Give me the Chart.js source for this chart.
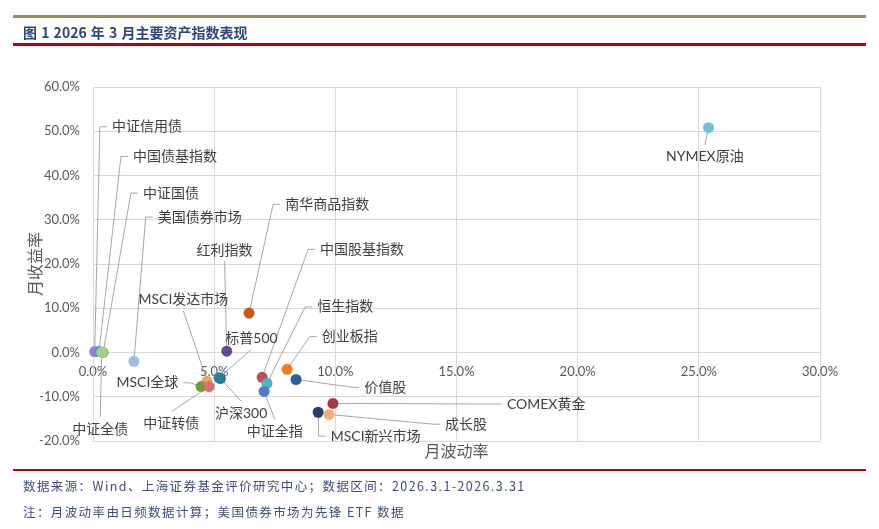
<!DOCTYPE html>
<html>
<head>
<meta charset="utf-8">
<script src="https://cdn.jsdelivr.net/npm/chart.js@4.4.1/dist/chart.umd.min.js"></script>
<style>
  html, body { margin: 0; padding: 0; background: #fff; }
  #page { position: relative; width: 879px; height: 529px; overflow: hidden; font-family: "Noto Sans CJK SC", sans-serif; }
  #myChart { position: absolute; left: 0; top: 0; }
  .rule { position: absolute; left: 13px; width: 853px; }
  #title { position: absolute; left: 23px; top: 22px; font-size: 14px; font-weight: bold; color: #2b4878; white-space: nowrap; word-spacing: 1px; }
  .note { position: absolute; left: 23px; font-size: 12.5px; color: #3e4f7c; letter-spacing: 1.4px; white-space: nowrap; }
</style>
</head>
<body>
<div id="page">
  <canvas id="myChart" width="879" height="529"></canvas>
  <div class="rule" style="top:15px;height:2.5px;background:#978e5c;"></div>
  <div id="title">图 1 2026 年 3 月主要资产指数表现</div>
  <div class="rule" style="top:43px;height:2.5px;background:#c00000;"></div>
  <div class="rule" style="top:469px;height:2px;background:#c00000;"></div>
  <div class="note" style="top:476px;">数据来源：Wind、上海证券基金评价研究中心；数据区间：2026.3.1-2026.3.31</div>
  <div class="note" style="top:502px;">注：月波动率由日频数据计算；美国债券市场为先锋 ETF 数据</div>
</div>
<script>
const ctx = document.getElementById("myChart");

// Asset names, monthly volatility (%) and monthly return (%)
const names = [
    "中证信用债", "中国债基指数", "中证国债", "中证全债", "美国债券市场",
    "红利指数", "南华商品指数", "标普500", "沪深300", "MSCI发达市场",
    "MSCI全球", "中证转债", "中国股基指数", "恒生指数", "中证全指",
    "创业板指", "价值股", "COMEX黄金", "MSCI新兴市场", "成长股", "NYMEX原油"
];
const volatility = [
    0.07, 0.25, 0.42, 0.36, 1.69,
    5.52, 6.44, 5.20, 5.26, 4.71,
    4.46, 4.79, 6.98, 7.18, 7.06,
    8.01, 8.38, 9.90, 9.29, 9.74, 25.40
];
const monthlyReturn = [
    0.2, 0.2, 0.0, 0.05, -2.0,
    0.3, 8.9, -5.7, -5.9, -6.5,
    -7.7, -7.7, -5.6, -7.0, -8.8,
    -3.8, -6.1, -11.5, -13.5, -14.0, 50.8
];
const pointColors = [
    "#9a84c8", "#5b8fcf", "#9bbb59", "#a6cf88", "#9dbfe3",
    "#644a8c", "#c55a11", "#2a8aa0", "#237f93", "#f7a15a",
    "#77983e", "#d9706f", "#c0504d", "#4cb3cc", "#4a7fc0",
    "#f47c1c", "#2f5e94", "#a5383a", "#243f6e", "#f9ae72", "#72bfd6"
];

const xTicks = [0, 5, 10, 15, 20, 25, 30];
const yTicks = [-20, -10, 0, 10, 20, 30, 40, 50, 60];

// Label anchors in axis units: [x, y, side]
// R = text right of the point, L = text left, A = text above, B = text below
const labelLayout = [
    [0.78, 51.0, "R"], [1.65, 44.3, "R"], [2.06, 36.0, "R"], [0.30, -17.3, "B"], [2.67, 30.6, "R"],
    [5.43, 23.1, "A"], [7.93, 33.5, "R"], [6.54, 3.2, "A"], [6.11, -13.7, "B"], [3.73, 11.9, "A"],
    [3.52, -6.85, "L"], [3.23, -16.1, "B"], [9.37, 23.3, "R"], [9.25, 10.3, "R"], [7.50, -17.8, "B"],
    [9.44, 3.6, "R"], [11.19, -7.85, "R"], [17.08, -11.65, "R"], [9.81, -18.9, "R"], [14.53, -16.2, "R"], [25.25, 44.2, "B"]
];

const labelFont = '14px Lato, "Noto Sans CJK SC"';

const leaderPlugin = {
    id: "leaders",
    beforeDatasetsDraw(chart) {
        const { ctx, scales: { x, y } } = chart;
        ctx.save();
        ctx.strokeStyle = "#a6a6a6";
        ctx.lineWidth = 1;
        names.forEach((name, i) => {
            const [lx, ly, side] = labelLayout[i];
            const px = x.getPixelForValue(volatility[i]);
            const py = y.getPixelForValue(monthlyReturn[i]);
            const tx = x.getPixelForValue(lx);
            const ty = y.getPixelForValue(ly);
            ctx.beginPath();
            if (side === "R") {
                ctx.moveTo(tx - 5, ty);
                ctx.lineTo(tx - 12, ty);
            } else if (side === "L") {
                ctx.moveTo(tx + 5, ty);
                ctx.lineTo(tx + 12, ty);
            } else if (side === "A") {
                ctx.moveTo(tx, ty + 11);
            } else {
                ctx.moveTo(tx, ty - 12);
            }
            ctx.lineTo(px, py);
            ctx.stroke();
        });
        ctx.restore();
    },
    afterDatasetsDraw(chart) {
        const { ctx, scales: { x, y } } = chart;
        ctx.save();
        ctx.font = labelFont;
        ctx.fillStyle = "#404040";
        ctx.textBaseline = "middle";
        names.forEach((name, i) => {
            const [lx, ly, side] = labelLayout[i];
            ctx.textAlign = side === "R" ? "left" : side === "L" ? "right" : "center";
            ctx.fillText(name, x.getPixelForValue(lx), y.getPixelForValue(ly));
        });

        // axis titles
        ctx.font = '16px "Noto Sans CJK SC"';
        ctx.fillStyle = "#595959";
        ctx.textAlign = "center";
        ctx.fillText("月波动率", (x.left + x.right) / 2, chart.chartArea.bottom + 10);
        ctx.translate(35, (chart.chartArea.top + chart.chartArea.bottom) / 2);
        ctx.rotate(-Math.PI / 2);
        ctx.fillText("月收益率", 0, 0);
        ctx.restore();
    }
};

const chart = new Chart(ctx, {
    type: "scatter",
    data: {
        datasets: [
            {
                data: names.map((name, i) => ({ x: volatility[i], y: monthlyReturn[i] })),
                pointBackgroundColor: pointColors,
                pointBorderWidth: 0,
                pointRadius: 5.5,
                pointHoverRadius: 5.5,
                clip: false
            }
        ]
    },
    options: {
        responsive: false,
        animation: false,
        layout: {
            padding: { left: 0, top: 87, right: 59, bottom: 88 }
        },
        scales: {
            x: {
                type: "linear",
                min: 0,
                max: 30,
                position: { y: 0 },
                afterBuildTicks: (scale) => { scale.ticks = xTicks.map(v => ({ value: v })); },
                ticks: {
                    padding: 12,
                    color: "#595959",
                    font: { family: "Lato", size: 13 },
                    maxRotation: 0,
                    callback: (v) => v.toFixed(1) + "%"
                },
                grid: { color: "#d9d9d9", drawTicks: false },
                border: { color: "#d9d9d9" }
            },
            y: {
                type: "linear",
                min: -20,
                max: 60,
                afterBuildTicks: (scale) => { scale.ticks = yTicks.map(v => ({ value: v })); },
                afterFit: (scale) => { scale.width = 93; },
                ticks: {
                    padding: 13,
                    color: "#595959",
                    font: { family: "Lato", size: 13 },
                    callback: (v) => v.toFixed(1) + "%"
                },
                grid: { color: "#d9d9d9", drawTicks: false },
                border: { color: "#d9d9d9" }
            }
        },
        plugins: {
            legend: { display: false },
            tooltip: { enabled: false }
        }
    },
    plugins: [leaderPlugin]
});
</script>
</body>
</html>
